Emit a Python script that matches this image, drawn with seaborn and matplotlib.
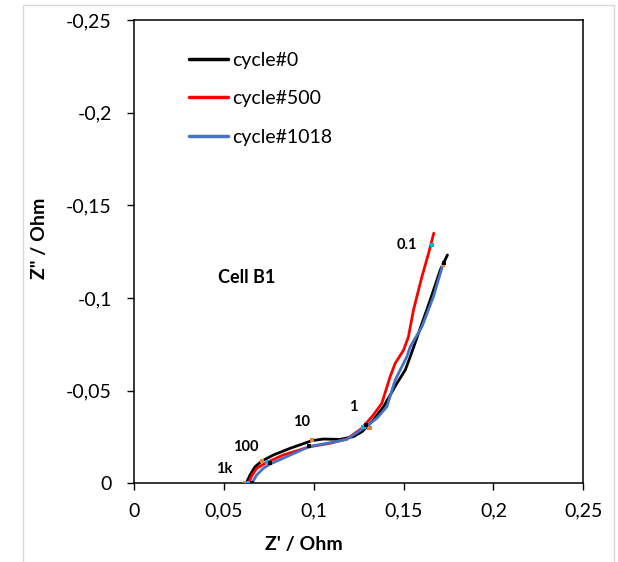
import numpy as np
import pandas as pd
import matplotlib
matplotlib.use("Agg")
import matplotlib.pyplot as plt
from matplotlib.ticker import FuncFormatter
from matplotlib.patches import Rectangle
import seaborn as sns

# Nyquist curves: Z' / Ohm and Z'' / Ohm (Z'' is negative)
cycles = ["cycle#0", "cycle#500", "cycle#1018"]
line_colors = ["#000000", "#ff0000", "#4472c4"]

zre_c0 = [0.0624, 0.0646, 0.0674, 0.0711, 0.0776, 0.0869, 0.0989, 0.1054, 0.1147, 0.1221,
          0.1268, 0.1296, 0.1332, 0.1388, 0.1463, 0.1509, 0.1537, 0.1583, 0.1648, 0.1704,
          0.1726, 0.1744]
zim_c0 = [0.0, -0.0045, -0.0090, -0.0120, -0.0153, -0.0189, -0.0230, -0.0239, -0.0237, -0.0252,
          -0.0278, -0.0305, -0.0342, -0.0413, -0.0540, -0.0611, -0.0683, -0.0810, -0.0989, -0.1151,
          -0.1196, -0.1232]

zre_c500 = [0.0637, 0.0655, 0.0683, 0.0739, 0.0831, 0.0980, 0.1091, 0.1184, 0.1268, 0.1332,
            0.1379, 0.1425, 0.1453, 0.1500, 0.1527, 0.1555, 0.1602, 0.1639, 0.1668]
zim_c500 = [0.0, -0.0040, -0.0081, -0.0113, -0.0153, -0.0198, -0.0216, -0.0239, -0.0297, -0.0369,
            -0.0432, -0.0575, -0.0647, -0.0719, -0.0791, -0.0935, -0.1115, -0.1241, -0.1350]

zre_c1018 = [0.0655, 0.0683, 0.0720, 0.0757, 0.0850, 0.0974, 0.1091, 0.1184, 0.1277, 0.1351,
             0.1407, 0.1453, 0.1518, 0.1537, 0.1602, 0.1666, 0.1718]
zim_c1018 = [0.0, -0.0045, -0.0081, -0.0104, -0.0144, -0.0198, -0.0219, -0.0237, -0.0297, -0.0351,
             -0.0413, -0.0557, -0.0683, -0.0737, -0.0845, -0.1007, -0.1178]

# frequency markers (1k, 100, 10, 1, 0.1 Hz)
mark_colors = ["#ed7d31", "#00b0f0", "#000000"]
mre_c0 = [0.0618, 0.0711, 0.0989, 0.1310, 0.1718]
mim_c0 = [0.0, -0.0120, -0.0234, -0.0297, -0.1178]
mre_c500 = [0.0635, 0.0739, 0.1277, 0.1659]
mim_c500 = [0.0, -0.0115, -0.0305, -0.1284]
mre_c1018 = [0.0655, 0.0757, 0.0974, 0.1292, 0.1724]
mim_c1018 = [0.0, -0.0108, -0.0203, -0.0315, -0.1187]

freq_labels = ["1k", "100", "10", "1", "0.1"]

sns.set_theme(style="white")
plt.rcParams["font.family"] = ["Lato", "DejaVu Sans"]
for k in ["text.color", "axes.labelcolor", "xtick.color", "ytick.color"]:
    plt.rcParams[k] = "black"
fsize = 14

curves = pd.concat([
    pd.DataFrame({"zre": zre_c0, "zim": zim_c0, "cycle": cycles[0]}),
    pd.DataFrame({"zre": zre_c500, "zim": zim_c500, "cycle": cycles[1]}),
    pd.DataFrame({"zre": zre_c1018, "zim": zim_c1018, "cycle": cycles[2]}),
], ignore_index=True)
marks = pd.concat([
    pd.DataFrame({"zre": mre_c0, "zim": mim_c0, "cycle": cycles[0]}),
    pd.DataFrame({"zre": mre_c500, "zim": mim_c500, "cycle": cycles[1]}),
    pd.DataFrame({"zre": mre_c1018, "zim": mim_c1018, "cycle": cycles[2]}),
], ignore_index=True)

fig = plt.figure(figsize=(6.18, 5.62), dpi=100)
ax = fig.add_axes([0.2168, 0.14, 0.7271, 0.8244])

sns.lineplot(data=curves, x="zre", y="zim", hue="cycle", hue_order=cycles,
             palette=line_colors, sort=False, estimator=None, linewidth=2,
             legend=False, ax=ax, solid_joinstyle="round", solid_capstyle="round")
sns.scatterplot(data=marks, x="zre", y="zim", hue="cycle", hue_order=cycles,
                palette=mark_colors, marker="s", s=9, linewidth=0,
                legend=False, zorder=5, ax=ax)

ax.set_xlim(0, 0.25)
ax.set_ylim(0, -0.25)
ax.set_xticks([0, 0.05, 0.1, 0.15, 0.2, 0.25])
ax.set_yticks([0, -0.05, -0.1, -0.15, -0.2, -0.25])
comma = FuncFormatter(lambda v, p: ("%g" % round(v, 3)).replace(".", ","))
ax.xaxis.set_major_formatter(comma)
ax.yaxis.set_major_formatter(comma)
ax.tick_params(axis="x", bottom=True, direction="out", length=5, width=1, pad=9,
               labelsize=fsize, colors="black")
ax.tick_params(axis="y", left=True, direction="out", length=5, width=1, pad=11,
               labelsize=fsize, colors="black")
for sp in ax.spines.values():
    sp.set_color("black")
    sp.set_linewidth(1.1)

ax.set_xlabel("Z' / Ohm", fontsize=fsize, fontweight="bold")
ax.set_ylabel('Z" / Ohm', fontsize=fsize, fontweight="bold")
ax.xaxis.set_label_coords(0.3775, -0.133)
ax.xaxis.label.set_va("center")
ax.yaxis.set_label_coords(-0.2107, 0.5286)
ax.yaxis.label.set_va("center")

lab_x = [0.0501, 0.0624, 0.0934, 0.1219, 0.1520]
lab_y = [-0.0077, -0.0198, -0.0329, -0.0410, -0.1286]
for t, x, y in zip(freq_labels, lab_x, lab_y):
    ax.text(x, y, t, fontsize=10.5, fontweight="bold", ha="center", va="center")
ax.text(0.0628, -0.1112, "Cell B1", fontsize=13, fontweight="bold", ha="center", va="center")

ax.legend(ax.get_lines()[:3], cycles, loc="upper left", bbox_to_anchor=(0.1225, 0.932),
          frameon=False, fontsize=fsize, handlelength=2.0, handletextpad=0.2,
          labelspacing=1.11, borderpad=0, borderaxespad=0)
for h in ax.get_legend().get_lines():
    h.set_linewidth(2.5)

fig.add_artist(Rectangle((0.0367, -0.01), 0.9563, 1.0016, transform=fig.transFigure,
                         fill=False, edgecolor="#d9d9d9", linewidth=1))

fig.savefig("out.png", dpi=100)
